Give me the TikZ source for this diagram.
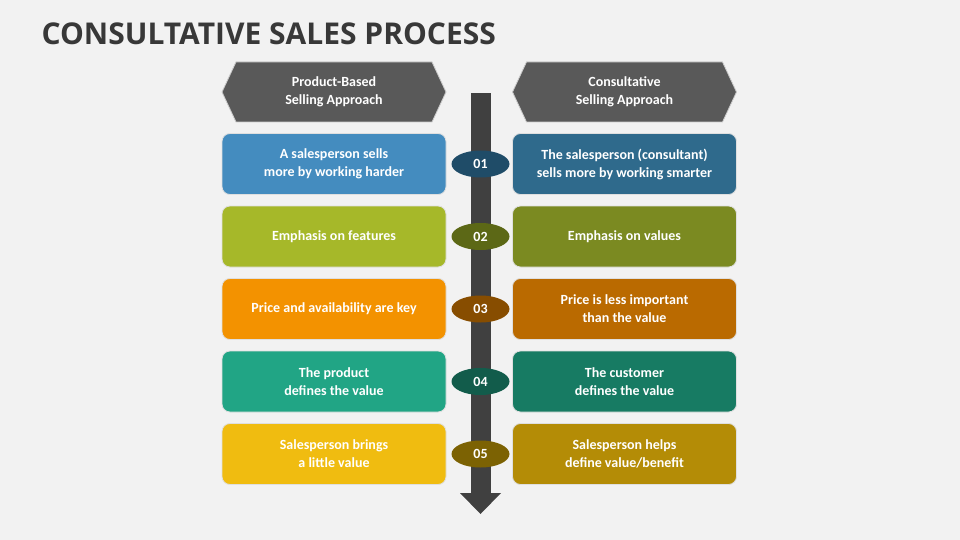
\documentclass[tikz,border=0pt]{standalone}
\usepackage{fontspec}
\setmainfont{Carlito}
\newfontfamily\titlefont{Open Sans}
\usetikzlibrary{shapes.geometric,shapes.symbols}
\definecolor{bg}{HTML}{F2F2F2}
\definecolor{hdr}{HTML}{595959}
\definecolor{shaft}{HTML}{404040}
\definecolor{lA}{HTML}{448CBF}\definecolor{rA}{HTML}{2F6A8C}\definecolor{eA}{HTML}{1F4C68}
\definecolor{lB}{HTML}{A6B829}\definecolor{rB}{HTML}{7B8A21}\definecolor{eB}{HTML}{5C6816}
\definecolor{lC}{HTML}{F39200}\definecolor{rC}{HTML}{BA6A00}\definecolor{eC}{HTML}{874D00}
\definecolor{lD}{HTML}{21A585}\definecolor{rD}{HTML}{177B63}\definecolor{eD}{HTML}{125C4B}
\definecolor{lE}{HTML}{F0BC10}\definecolor{rE}{HTML}{B48C06}\definecolor{eE}{HTML}{7C6203}
\begin{document}
\begin{tikzpicture}[x=1pt,y=1pt,yscale=-1,
  card/.style={rounded corners=8pt,draw=white!75!gray,line width=0.8pt,minimum width=224pt,minimum height=61pt,
    text=white,font=\bfseries\fontsize{14}{18}\selectfont,align=center},
  header/.style={signal,signal to=west and east,signal pointer angle=130,fill=hdr,draw=white!60!gray,line width=0.8pt,
    minimum width=224pt,minimum height=60pt,inner xsep=0pt,text=white,font=\bfseries\fontsize{14}{18}\selectfont,align=center},
  num/.style={ellipse,minimum width=58pt,minimum height=27pt,text=white,font=\bfseries\fontsize{14}{16}\selectfont}]
\fill[bg] (0,0) rectangle (960,540);
\useasboundingbox (0,0) rectangle (960,540);
% title
\node[anchor=west,text=black!78,font=\titlefont\bfseries\fontsize{30}{34}\selectfont] (title) at (38,34) {CONSULTATIVE SALES PROCESS};
% central arrow
\fill[shaft] (471,93) rectangle (491,494);
\fill[shaft] (460,493) -- (501,493) -- (480.5,514) -- cycle;
% headers
\node[header] (hl) at (334,92) {Product-Based\\Selling Approach};
\node[header] (hr) at (624.5,92) {Consultative\\Selling Approach};
% rows
\foreach \y/\c/\n/\lt/\rt in {
  164/A/01/{A salesperson sells\\more by working harder}/{The salesperson (consultant)\\sells more by working smarter},
  236.5/B/02/{Emphasis on features}/{Emphasis on values},
  309/C/03/{Price and availability are key}/{Price is less important\\than the value},
  381.5/D/04/{The product\\defines the value}/{The customer\\defines the value},
  454/E/05/{Salesperson brings\\a little value}/{Salesperson helps\\define value/benefit}}{
  \node[card,fill=l\c] (l\n) at (334,\y) {\lt};
  \node[card,fill=r\c] (r\n) at (624.5,\y) {\rt};
  \node[num,fill=e\c] (n\n) at (480.5,\y) {\n};
}
\end{tikzpicture}
\end{document}
